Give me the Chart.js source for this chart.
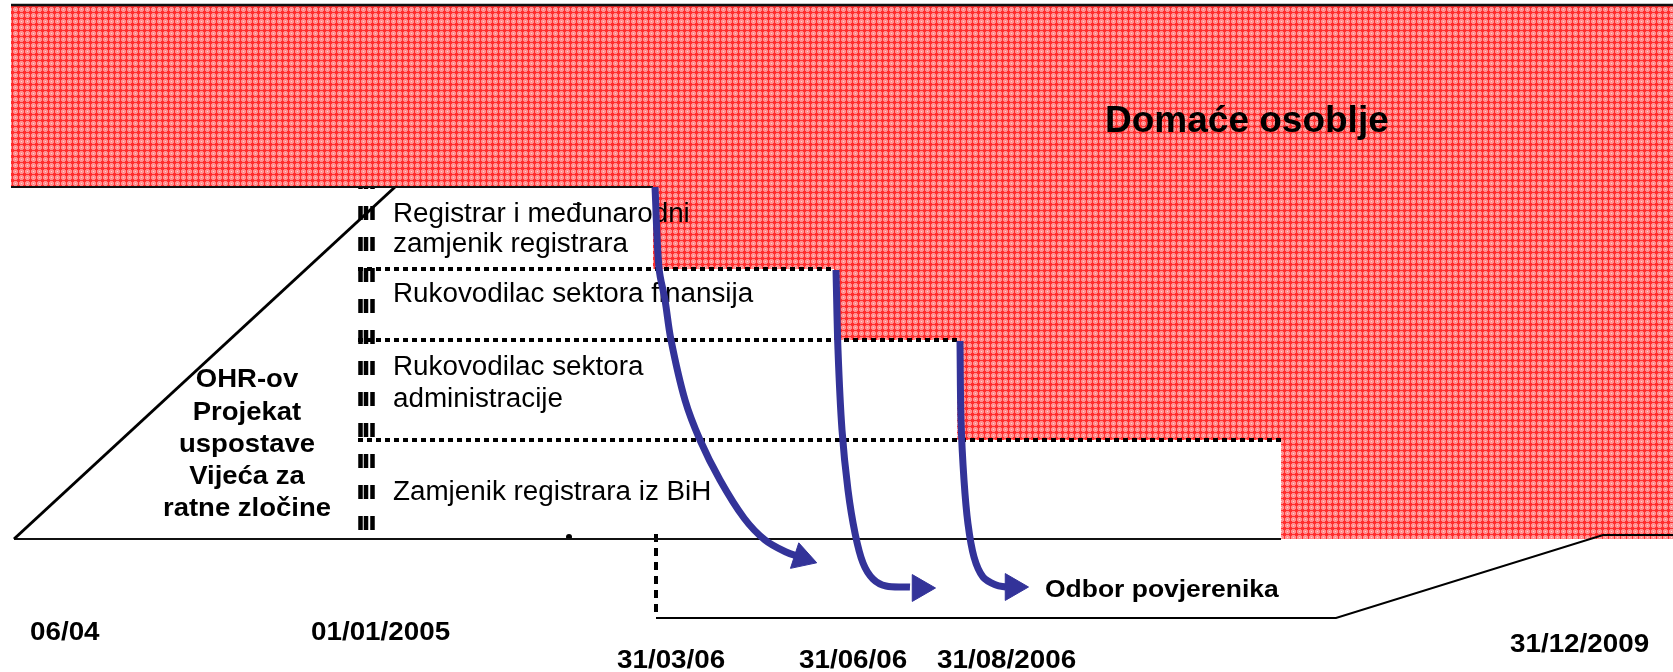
<!DOCTYPE html>
<html>
<head>
<meta charset="utf-8">
<title>Vijeće za ratne zločine - prelazak na domaće osoblje</title>
<script src="https://cdn.jsdelivr.net/npm/chart.js@4.4.1/dist/chart.umd.min.js"></script>
<style>
  html, body { margin: 0; padding: 0; background: #ffffff; }
  #wrap { width: 1673px; height: 672px; }
</style>
</head>
<body>
<div id="wrap"><canvas id="diagram" width="1673" height="672"></canvas></div>
<script>
// Diagram units: x = position along the timeline, y = level from the top (0 = top)
// Domestic staff area (stepped outline, steps at each hand-over date)
const domesticArea = [
  [11, 5], [1673, 5], [1673, 539], [1281, 539], [1281, 440], [957, 440],
  [957, 340], [834, 340], [834, 269], [653, 269], [653, 187], [11, 187]
];

// OHR project outline and timeline base
const topBorder = [[11, 5], [1673, 5]];
const projectTop = [[11, 187], [653, 187]];
const projectSlope = [[14, 539], [395, 187]];
const baseLine = [[14, 539], [1281, 539]];

// international positions (box separators)
const sepFinance = [[358, 269], [834, 269]];
const sepAdmin = [[358, 340], [957, 340]];
const sepDeputy = [[358, 440], [1281, 440]];
const startMarks = [360.5, 366, 372.5];
const startSpan = [187, 539];

// Board of commissioners bracket
const boardDrop = [[656, 534], [656, 618]];
const boardLine = [[656, 618], [1336, 618], [1603, 535], [1673, 535]];
const smallMark = [[569, 537]];

// hand-over arrows
const arrowRegistrar = [[655, 187], [659, 268], [665, 300], [671, 340], [685, 400], [700, 440], [720, 480], [744, 518], [765, 540], [786, 552], [800, 557]];
const arrowFinance = [[836, 270], [838, 350], [842, 430], [848, 490], [855, 533], [863, 563], [873, 579], [886, 586], [910, 587]];
const arrowAdmin = [[960, 341], [961, 420], [964, 480], [968, 524], [974, 557], [983, 577], [996, 585], [1006, 587]];
const arrowHeads = [[802, 558], [920, 588], [1013, 587]];
const arrowAngles = [108, 90, 90];

// texts
const boxTexts = [
  ['Registrar i međunarodni', 393, 222],
  ['zamjenik registrara', 393, 252],
  ['Rukovodilac sektora finansija', 393, 302],
  ['Rukovodilac sektora', 393, 375],
  ['administracije', 393, 407],
  ['Zamjenik registrara iz BiH', 393, 500]
];
const projectTexts = [
  ['OHR-ov', 247, 387],
  ['Projekat', 247, 420],
  ['uspostave', 247, 452],
  ['Vijeća za', 247, 484],
  ['ratne zločine', 247, 516]
];
const dateTexts = [
  ['06/04', 30, 640],
  ['01/01/2005', 311, 640],
  ['31/03/06', 617, 668],
  ['31/06/06', 799, 668],
  ['31/08/2006', 937, 668],
  ['31/12/2009', 1510, 652]
];
const titleText = ['Domaće osoblje', 1105, 132];
const boardText = ['Odbor povjerenika', 1045, 597];

const FAMILY = '"Liberation Sans", Arial, Helvetica, sans-serif';
const BLUE = '#333399';

function toPoints(arr) {
  return arr.map(p => ({ x: p[0], y: p[1] }));
}

// red pattern fill like the original slide
function makeHatch() {
  const c = document.createElement('canvas');
  c.width = 6;
  c.height = 6;
  const g = c.getContext('2d');
  g.fillStyle = '#ff2e2e';
  g.fillRect(0, 0, 6, 6);
  g.fillStyle = '#ff8f8f';
  g.fillRect(2, 1, 3, 5);
  g.fillRect(1, 2, 5, 3);
  g.fillStyle = '#ffd6d6';
  g.fillRect(3, 3, 1, 1);
  return g.createPattern(c, 'repeat');
}

function lineSet(arr, color, width, extra) {
  return Object.assign({
    data: toPoints(arr),
    showLine: true,
    borderColor: color,
    borderWidth: width,
    pointRadius: 0,
    fill: false,
    tension: 0,
    order: 5
  }, extra || {});
}

const datasets = [];
// 0: domestic staff area (drawn first)
datasets.push(lineSet(domesticArea, 'rgba(0,0,0,0)', 0, {
  fill: 'shape',
  backgroundColor: makeHatch(),
  order: 10
}));
datasets.push(lineSet(topBorder, '#111', 2.5));
datasets.push(lineSet(projectTop, '#111', 2));
datasets.push(lineSet(projectSlope, '#000', 3));
datasets.push(lineSet(baseLine, '#111', 2));
datasets.push(lineSet(sepFinance, '#000', 4, { borderDash: [5, 4] }));
datasets.push(lineSet(sepAdmin, '#000', 4, { borderDash: [5, 4] }));
datasets.push(lineSet(sepDeputy, '#000', 4, { borderDash: [5, 4] }));
startMarks.forEach(mx => {
  datasets.push(lineSet([[mx, startSpan[0]], [mx, startSpan[1]]], '#000', 4.5, {
    borderDash: [14, 17], borderDashOffset: 12
  }));
});
datasets.push(lineSet(boardDrop, '#000', 4, { borderDash: [8, 6] }));
datasets.push(lineSet(boardLine, '#000', 2));
datasets.push({
  data: toPoints(smallMark), showLine: false, pointRadius: 3,
  pointBackgroundColor: '#000', pointBorderWidth: 0, order: 5
});
datasets.push(lineSet(arrowRegistrar, BLUE, 7, { tension: 0.35, order: 1 }));
datasets.push(lineSet(arrowFinance, BLUE, 7, { tension: 0.35, order: 1 }));
datasets.push(lineSet(arrowAdmin, BLUE, 7, { tension: 0.35, order: 1 }));
datasets.push({
  data: toPoints(arrowHeads),
  showLine: false,
  pointStyle: 'triangle',
  pointRadius: 15.5,
  pointRotation: arrowAngles,
  pointBackgroundColor: BLUE,
  pointBorderColor: BLUE,
  pointBorderWidth: 1,
  order: 0
});

function drawText(ctx, xs, ys, item, font, align, stretch) {
  ctx.save();
  ctx.font = font;
  ctx.fillStyle = '#000';
  ctx.textAlign = align;
  ctx.textBaseline = 'alphabetic';
  ctx.translate(xs.getPixelForValue(item[1]), ys.getPixelForValue(item[2]));
  ctx.scale(stretch, 1);
  ctx.fillText(item[0], 0, 0);
  ctx.restore();
}

// texts go right after the red area, so the arrows pass over them
const textPlugin = {
  id: 'diagramText',
  afterDatasetDraw(chart, args) {
    if (args.index !== 0) return;
    const ctx = chart.ctx;
    const xs = chart.scales.x;
    const ys = chart.scales.y;
    drawText(ctx, xs, ys, titleText, 'bold 37px ' + FAMILY, 'left', 1);
    boxTexts.forEach(t => drawText(ctx, xs, ys, t, '27px ' + FAMILY, 'left', 1.03));
    projectTexts.forEach(t => drawText(ctx, xs, ys, t, 'bold 25px ' + FAMILY, 'center', 1.1));
    dateTexts.forEach(t => drawText(ctx, xs, ys, t, 'bold 25.5px ' + FAMILY, 'left', 1.09));
    drawText(ctx, xs, ys, boardText, 'bold 24.5px ' + FAMILY, 'left', 1.08);
  }
};

const chart = new Chart(document.getElementById('diagram').getContext('2d'), {
  type: 'scatter',
  data: { datasets: datasets },
  options: {
    responsive: false,
    animation: false,
    events: [],
    layout: { padding: 0, autoPadding: false },
    scales: {
      x: { type: 'linear', min: 0, max: 1673, display: false },
      y: { type: 'linear', min: 0, max: 672, reverse: true, display: false }
    },
    plugins: {
      legend: { display: false },
      tooltip: { enabled: false }
    }
  },
  plugins: [textPlugin]
});
</script>
</body>
</html>
